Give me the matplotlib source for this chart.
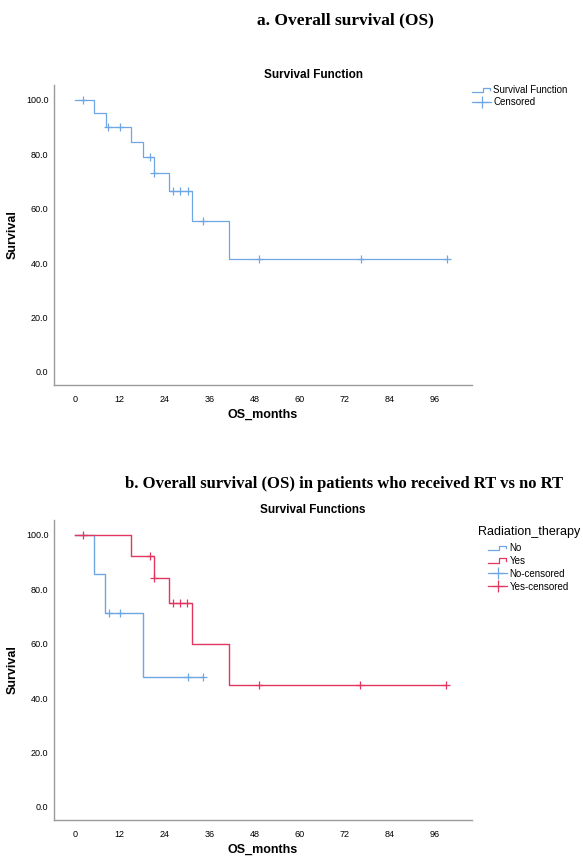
import numpy as np
import matplotlib
matplotlib.use('Agg')
import matplotlib.pyplot as plt
from matplotlib.lines import Line2D
from matplotlib.legend_handler import HandlerBase

plt.rcParams['font.family'] = ['Liberation Sans', 'DejaVu Sans']

# panel a - overall survival (all patients)
os_times = [0, 5.2, 8.3, 15.0, 18.2, 21.2, 25.2, 31.2, 41.2, 99.2]
os_surv = [100, 95.2, 90.2, 84.6, 78.9, 73.0, 66.4, 55.6, 41.7, 41.7]
os_cens = [2.1, 9.0, 12.1, 20.2, 21.2, 26.1, 28.1, 30.1, 34.1, 49.2, 76.3, 99.2]

# panel b - by radiation therapy
no_times = [0, 5.2, 8.2, 18.2, 34.1]
no_surv = [100, 85.7, 71.4, 47.6, 47.6]
no_cens = [9.1, 12.1, 30.2, 34.1]

yes_times = [0, 15.0, 21.2, 25.2, 31.3, 41.1, 99.1]
yes_surv = [100, 92.3, 84.0, 75.0, 60.0, 45.0, 45.0]
yes_cens = [2.1, 20.1, 21.2, 26.1, 28.2, 30.0, 49.1, 76.1, 99.1]

x_ticks = [0, 12, 24, 36, 48, 60, 72, 84, 96]
y_ticks = [0, 20, 40, 60, 80, 100]

BLUE = '#6fa6e4'
RED = '#e0365f'


def level_at(times, surv, t):
    # survival level of the step curve at time t (after any drop at t)
    i = np.searchsorted(times, t, side='right') - 1
    return np.array(surv)[i]


class StepHandler(HandlerBase):
    def create_artists(self, legend, orig_handle, xdescent, ydescent,
                       width, height, fontsize, trans):
        xs = np.array([0, 0.55, 0.55, 0.92, 0.92]) * width - xdescent
        ys = np.array([0.15, 0.15, 0.8, 0.8, 0.5]) * height - ydescent
        ln = Line2D(xs, ys, color=orig_handle.get_color(), lw=0.9, transform=trans)
        return [ln]


def style_axes(ax):
    ax.set_xlim(-5.5, 105.9)
    ax.set_ylim(-4.8, 105.5)
    ax.set_xticks(x_ticks)
    ax.set_yticks(y_ticks)
    ax.set_yticklabels([f'{v:.1f}' for v in y_ticks])
    ax.tick_params(length=0, labelsize=6.5, pad=4)
    ax.tick_params(axis='x', pad=7)
    for s in ['top', 'right']:
        ax.spines[s].set_visible(False)
    for s in ['left', 'bottom']:
        ax.spines[s].set_color('#9a9a9a')
        ax.spines[s].set_linewidth(1.0)
    ax.set_xlabel('OS_months', fontsize=9, fontweight='bold')
    ax.set_ylabel('Survival', fontsize=9, fontweight='bold')
    ax.xaxis.set_label_coords(0.5, -0.1)
    ax.yaxis.set_label_coords(-0.1, 0.5)
    ax.xaxis.label.set_va('center')
    ax.yaxis.label.set_va('center')


fig = plt.figure(figsize=(5.83, 8.56), dpi=100)

# ---- panel a
ax1 = fig.add_axes([54 / 583, 1 - 385 / 856, 418 / 583, 300 / 856])
ax1.step(os_times, os_surv, where='post', color=BLUE, lw=0.9)
cy = [level_at(os_times, os_surv, t) for t in os_cens]
ax1.plot(os_cens, cy, ls='none', marker='+', ms=6, mew=0.9, color=BLUE)
style_axes(ax1)

fig.text(345 / 583, 1 - 20 / 856, 'a. Overall survival (OS)', ha='center', va='center',
         fontsize=12.5, fontweight='bold', family=['Liberation Serif', 'DejaVu Serif'])
fig.text(313 / 583, 1 - 75 / 856, 'Survival Function', ha='center', va='center',
         fontsize=8.5, fontweight='bold')

h_step = Line2D([], [], color=BLUE)
h_cens = Line2D([], [], color=BLUE, lw=0.9, marker='+', ms=8, mew=0.9)
fig.legend([h_step, h_cens], ['Survival Function', 'Censored'],
           handler_map={h_step: StepHandler()}, loc='upper left',
           bbox_to_anchor=(472 / 583, 1 - 85 / 856), bbox_transform=fig.transFigure,
           frameon=False, fontsize=7, handlelength=2.0, handletextpad=0.2,
           labelspacing=0.25, borderpad=0, borderaxespad=0, numpoints=1)

# ---- panel b
ax2 = fig.add_axes([54 / 583, 1 - 820 / 856, 418 / 583, 300 / 856])
ax2.step(no_times, no_surv, where='post', color=BLUE, lw=1.0)
ax2.step(yes_times, yes_surv, where='post', color=RED, lw=1.0)
ny = [level_at(no_times, no_surv, t) for t in no_cens]
yy = [level_at(yes_times, yes_surv, t) for t in yes_cens]
ax2.plot(no_cens, ny, ls='none', marker='+', ms=6, mew=0.9, color=BLUE)
ax2.plot(yes_cens, yy, ls='none', marker='+', ms=6, mew=0.9, color=RED)
style_axes(ax2)

fig.text(344 / 583, 1 - 484 / 856,
         'b. Overall survival (OS) in patients who received RT vs no RT',
         ha='center', va='center', fontsize=12, fontweight='bold',
         family=['Liberation Serif', 'DejaVu Serif'])
fig.text(313 / 583, 1 - 510 / 856, 'Survival Functions', ha='center', va='center',
         fontsize=8.5, fontweight='bold')
fig.text(478 / 583, 1 - 532 / 856, 'Radiation_therapy', ha='left', va='center', fontsize=9)

hb_no = Line2D([], [], color=BLUE)
hb_yes = Line2D([], [], color=RED)
hb_noc = Line2D([], [], color=BLUE, lw=0.9, marker='+', ms=8, mew=0.9)
hb_yesc = Line2D([], [], color=RED, lw=0.9, marker='+', ms=8, mew=0.9)
fig.legend([hb_no, hb_yes, hb_noc, hb_yesc], ['No', 'Yes', 'No-censored', 'Yes-censored'],
           handler_map={hb_no: StepHandler(), hb_yes: StepHandler()}, loc='upper left',
           bbox_to_anchor=(488 / 583, 1 - 543 / 856), bbox_transform=fig.transFigure,
           frameon=False, fontsize=7, handlelength=2.0, handletextpad=0.2,
           labelspacing=0.3, borderpad=0, borderaxespad=0, numpoints=1)

fig.savefig('out.png', dpi=100)
